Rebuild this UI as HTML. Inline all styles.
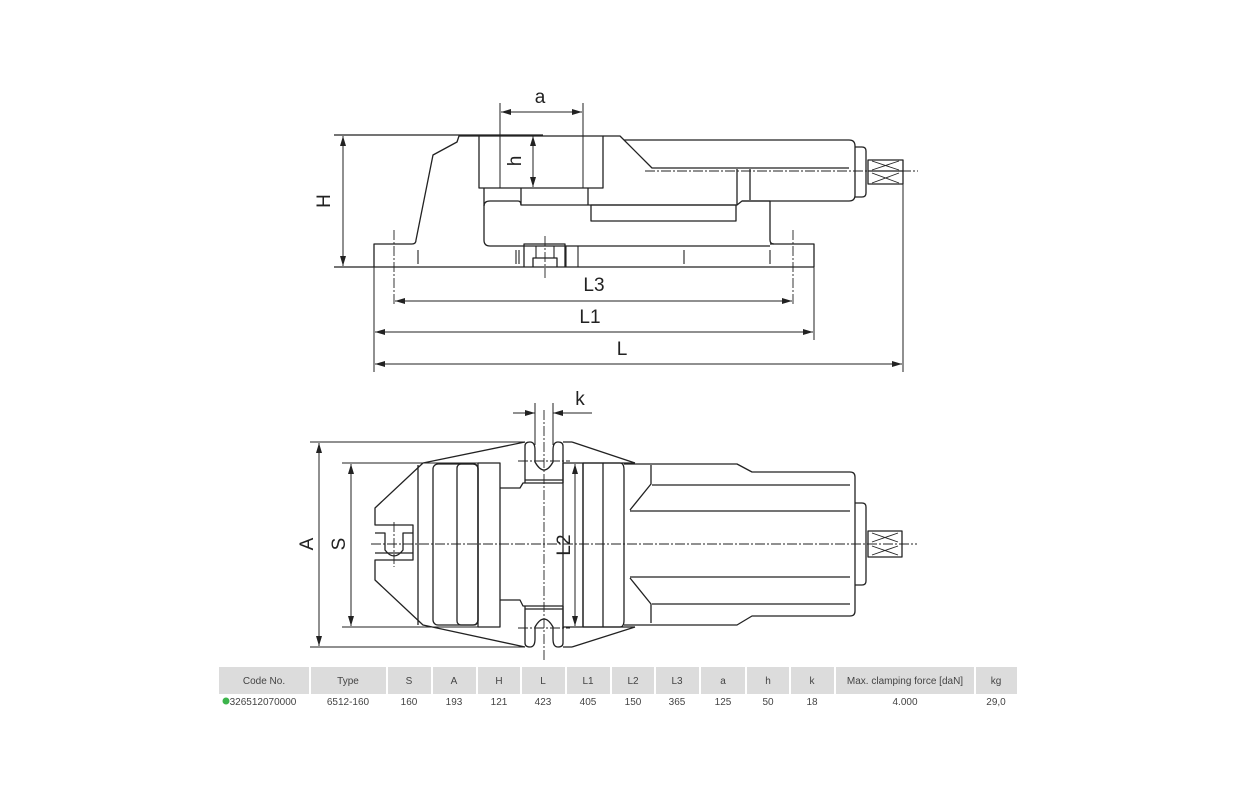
<!DOCTYPE html>
<html><head><meta charset="utf-8"><style>
html,body{margin:0;padding:0;background:#fff;width:1234px;height:800px;overflow:hidden}
svg{position:absolute;left:0;top:0}
.t{font-family:"Liberation Sans",sans-serif;font-size:10px;fill:#444}
</style></head><body>
<svg width="1234" height="800" viewBox="0 0 1234 800" xmlns="http://www.w3.org/2000/svg">
<defs>
<marker id="ar" viewBox="0 0 10 6" refX="10" refY="3" markerWidth="10" markerHeight="6" orient="auto-start-reverse" markerUnits="userSpaceOnUse"><path d="M0,0 L10,3 L0,6 z" fill="#222"/></marker>
</defs>
<g fill="none" stroke="#222" stroke-width="1.3" stroke-linejoin="round">
<!-- TOP VIEW -->
<!-- H dim -->
<line x1="334" y1="135" x2="543" y2="135"/>
<line x1="334" y1="267" x2="374" y2="267"/>
<line x1="343" y1="136" x2="343" y2="266" stroke-width="1" marker-start="url(#ar)" marker-end="url(#ar)"/>
<!-- a dim -->
<line x1="500" y1="103" x2="500" y2="188" stroke-width="1"/>
<line x1="583" y1="103" x2="583" y2="188" stroke-width="1"/>
<line x1="501" y1="112" x2="582" y2="112" stroke-width="1" marker-start="url(#ar)" marker-end="url(#ar)"/>
<!-- h dim -->
<line x1="533" y1="136" x2="533" y2="187" stroke-width="1" marker-start="url(#ar)" marker-end="url(#ar)"/>
<!-- base -->
<path d="M374,267 V244 H412 Q416,244 416,240 L433,155 L457,142 L459,136 H479"/>
<line x1="374" y1="267" x2="814" y2="267"/>
<path d="M770,244 H814 V267"/>
<!-- jaw block -->
<rect x="479" y="136" width="124" height="52"/>
<!-- under jaw -->
<path d="M484,188 V240 Q484,246 490,246 H770"/>
<path d="M484,206 Q484,201 490,201 H518 Q521,201 521,205 H737 L742,201 H770 V240 Q770,244 774,244"/>
<line x1="521" y1="188" x2="521" y2="205"/>
<line x1="588" y1="188" x2="588" y2="205"/>
<rect x="591" y="205" width="145" height="16"/>
<!-- right body -->
<path d="M603,136 H620 L652,168 H849"/>
<path d="M624,140 H849 Q855,140 855,146 V195 Q855,201 849,201 H742"/>
<line x1="737" y1="169" x2="737" y2="205"/>
<line x1="750" y1="169" x2="750" y2="200"/>
<path d="M855,147 H862 Q866,147 866,151 V193 Q866,197 862,197 H855"/>
<rect x="868" y="160" width="35" height="24"/>
<line x1="868" y1="171" x2="903" y2="171"/>
<path d="M872,161 L899,170 M872,170 L899,161 M872,173 L899,183 M872,183 L899,173" stroke-width="0.9"/>
<!-- slot -->
<path d="M524,267 V244 H565 V267"/>
<path d="M533,267 V258 H557 V267"/>
<path d="M536,246 V258 M554,246 V258 M566,246 V267 M578,246 V267 M516,250 V264 M519,250 V264 M684,250 V264 M770,250 V264 M418,250 V264" stroke-width="1.1"/>
<!-- centerlines -->
<g stroke-width="0.9" stroke-dasharray="10,2,2,2">
<line x1="645" y1="171" x2="918" y2="171"/>
<line x1="394" y1="230" x2="394" y2="305"/>
<line x1="793" y1="230" x2="793" y2="305"/>
<line x1="545" y1="236" x2="545" y2="280"/>
</g>
<!-- L dims -->
<line x1="374" y1="267" x2="374" y2="372" stroke-width="1"/>
<line x1="814" y1="267" x2="814" y2="340" stroke-width="1"/>
<line x1="903" y1="184" x2="903" y2="372" stroke-width="1"/>
<line x1="395" y1="301" x2="792" y2="301" stroke-width="1" marker-start="url(#ar)" marker-end="url(#ar)"/>
<line x1="375" y1="332" x2="813" y2="332" stroke-width="1" marker-start="url(#ar)" marker-end="url(#ar)"/>
<line x1="375" y1="364" x2="902" y2="364" stroke-width="1" marker-start="url(#ar)" marker-end="url(#ar)"/>

<!-- BOTTOM VIEW -->
<line x1="310" y1="442" x2="525" y2="442" stroke-width="1"/>
<line x1="310" y1="647" x2="525" y2="647" stroke-width="1"/>
<line x1="342" y1="463" x2="500" y2="463" stroke-width="1"/>
<line x1="342" y1="627" x2="500" y2="627" stroke-width="1"/>
<line x1="319" y1="443" x2="319" y2="646" stroke-width="1" marker-start="url(#ar)" marker-end="url(#ar)"/>
<line x1="351" y1="464" x2="351" y2="626" stroke-width="1" marker-start="url(#ar)" marker-end="url(#ar)"/>
<!-- k -->
<line x1="535" y1="403" x2="535" y2="445" stroke-width="1"/>
<line x1="553" y1="403" x2="553" y2="445" stroke-width="1"/>
<line x1="513" y1="413" x2="535" y2="413" stroke-width="1" marker-end="url(#ar)"/>
<line x1="592" y1="413" x2="553" y2="413" stroke-width="1" marker-end="url(#ar)"/>
<!-- outer slants -->
<path d="M525,442 L423,463 L375,508 V525 H413 V560 H375 V580 L423,625 L525,647"/>
<path d="M375,533 H385 V550 Q394,562 403,550 V533 H413"/>
<path d="M375,553 H413"/>
<path d="M572,442 L635,463"/>
<path d="M572,647 L635,627"/>
<line x1="418" y1="465" x2="418" y2="625"/>
<rect x="433" y="464" width="45" height="161" rx="5"/>
<rect x="457" y="464" width="21" height="161" rx="4"/>
<rect x="478" y="463" width="22" height="164"/>
<!-- middle -->
<path d="M500,488 H520 L523,483 H563"/>
<path d="M500,600 H520 L523,606 H563"/>
<!-- slots -->
<path d="M525,483 V446 Q525,442 530,442 Q535,442 535,450 V462 Q544,478 553,462 V450 Q553,442 558,442 Q563,442 563,446 V483"/>
<path d="M525,606 V643 Q525,647 530,647 Q535,647 535,639 V627 Q544,611 553,627 V639 Q553,647 558,647 Q563,647 563,643 V606"/>
<path d="M563,442 H572 M563,647 H572" />
<line x1="525" y1="480" x2="563" y2="480"/>
<line x1="525" y1="609" x2="563" y2="609"/>
<line x1="563" y1="463" x2="563" y2="627"/>
<line x1="575" y1="464" x2="575" y2="626" stroke-width="1" marker-start="url(#ar)" marker-end="url(#ar)"/>
<line x1="583" y1="463" x2="583" y2="627"/>
<rect x="583" y="463" width="20" height="164"/>
<path d="M603,463 H620 Q624,463 624,470 V620 Q624,627 620,627 H603"/>
<path d="M563,463 H635 M563,627 H635" />
<!-- body -->
<path d="M624,464 H737 L752,472 H850 Q855,472 855,477 V611 Q855,616 850,616 H752 L737,625 H624"/>
<path d="M651,465 V484 L630,510 M652,485 H850 M630,511 H850 M630,577 H850 M630,578 L651,604 V623 M652,604 H850"/>
<path d="M855,503 H862 Q866,503 866,507 V581 Q866,585 862,585 H855"/>
<rect x="868" y="531" width="34" height="26"/>
<path d="M872,533 L898,542 M872,542 L898,533 M872,546 L898,555 M872,555 L898,546" stroke-width="0.9"/>
<g stroke-width="0.9" stroke-dasharray="10,2,2,2">
<line x1="371" y1="544" x2="917" y2="544"/>
<line x1="544" y1="410" x2="544" y2="660"/>
<line x1="394" y1="522" x2="394" y2="567"/>
<line x1="518" y1="461" x2="570" y2="461"/>
<line x1="518" y1="628" x2="570" y2="628"/>
</g>
</g>
<!-- dim labels -->
<g font-family="'Liberation Sans',sans-serif" font-size="19" fill="#222" font-weight="300">
<text x="540" y="103" text-anchor="middle">a</text>
<text x="594" y="291" text-anchor="middle">L3</text>
<text x="590" y="323" text-anchor="middle">L1</text>
<text x="622" y="355" text-anchor="middle">L</text>
<text x="580" y="405" text-anchor="middle">k</text>
<text transform="translate(330,201) rotate(-90)" text-anchor="middle">H</text>
<text transform="translate(521,161) rotate(-90)" text-anchor="middle">h</text>
<text transform="translate(313,544) rotate(-90)" text-anchor="middle">A</text>
<text transform="translate(345,544) rotate(-90)" text-anchor="middle">S</text>
<text transform="translate(570,545) rotate(-90)" text-anchor="middle">L2</text>
</g>
<!-- table -->
<g fill="#dcdcdc">
<rect x="219" y="667" width="90" height="27"/><rect x="311" y="667" width="75" height="27"/>
<rect x="388" y="667" width="43" height="27"/><rect x="433" y="667" width="43" height="27"/>
<rect x="478" y="667" width="42" height="27"/><rect x="522" y="667" width="43" height="27"/>
<rect x="567" y="667" width="43" height="27"/><rect x="612" y="667" width="42" height="27"/>
<rect x="656" y="667" width="43" height="27"/><rect x="701" y="667" width="44" height="27"/>
<rect x="747" y="667" width="42" height="27"/><rect x="791" y="667" width="43" height="27"/>
<rect x="836" y="667" width="138" height="27"/><rect x="976" y="667" width="41" height="27"/>
</g>
<g class="t" text-anchor="middle">
<text x="264" y="684">Code No.</text><text x="348" y="684">Type</text>
<text x="409" y="684">S</text><text x="454" y="684">A</text><text x="499" y="684">H</text>
<text x="543" y="684">L</text><text x="588" y="684">L1</text><text x="633" y="684">L2</text>
<text x="677" y="684">L3</text><text x="723" y="684">a</text><text x="768" y="684">h</text>
<text x="812" y="684">k</text><text x="905" y="684">Max. clamping force [daN]</text><text x="996" y="684">kg</text>
<text x="263" y="705">326512070000</text><text x="348" y="705">6512-160</text>
<text x="409" y="705">160</text><text x="454" y="705">193</text><text x="499" y="705">121</text>
<text x="543" y="705">423</text><text x="588" y="705">405</text><text x="633" y="705">150</text>
<text x="677" y="705">365</text><text x="723" y="705">125</text><text x="768" y="705">50</text>
<text x="812" y="705">18</text><text x="905" y="705">4.000</text><text x="996" y="705">29,0</text>
</g>
<circle cx="226" cy="701" r="3.5" fill="#3cb44b"/>
</svg>
</body></html>
